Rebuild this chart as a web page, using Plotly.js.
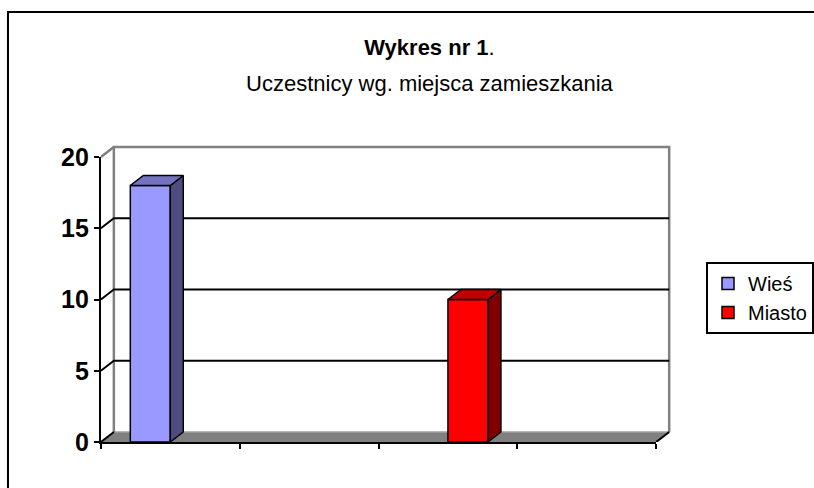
<!DOCTYPE html>
<html>
<head>
<meta charset="utf-8">
<script src="https://cdn.plot.ly/plotly-3.0.1.min.js"></script>
<style>html,body{margin:0;padding:0;background:#fff;}#chart{width:814px;height:488px;}</style>
</head>
<body>
<div id="chart"></div>
<script>
// ---- data ----
var categories = [1, 2, 3, 4];
var seriesNames = ["Wieś", "Miasto"];
var wies = [18, null, null, null];
var miasto = [null, null, 10, null];
var yTicks = [0, 5, 10, 15, 20];
var yTickLabels = ["0", "5", "10", "15", "20"];
var titleMain = "<b>Wykres nr 1</b>.";
var titleSub = "Uczestnicy wg. miejsca zamieszkania";

// ---- styles / geometry (pixels) ----
var W = 814, H = 488;
var FX0 = 101, FX1 = 657, FY0 = 442, FY1 = 157;   // front plot box
var DXP = 13, DYP = 10, PAD = 4;                   // 3D depth in px
var xMin = 0.5, xMax = categories.length + 0.5;
var yMin = 0, yMax = 20;
var pxX = (FX1 - FX0) / (xMax - xMin);
var pxY = (FY0 - FY1) / (yMax - yMin);
var DX = DXP / pxX, DY = DYP / pxY;
var BARGAP = 0.424;
var colors = {
  front: ["#9999FF", "#FF0000"],
  side:  ["#4D4D80", "#800000"],
  top:   ["#7373BF", "#C00000"]
};
var FONT = "Liberation Sans, Arial, sans-serif";
var TITLE_PX = 22, TITLE_LINE = 36;

var series = [wies, miasto];
var traces = [];

// ---- back decoration (subplot x/y) ----
var backLine = {line: {width: 0}, hoverinfo: "skip", showlegend: false, mode: "lines", xaxis: "x", yaxis: "y"};
// floor
traces.push(Object.assign({}, backLine, {
  type: "scatter", x: [xMin, xMax, xMax + DX, xMin + DX, xMin], y: [yMin, yMin, yMin + DY, yMin + DY, yMin],
  fill: "toself", fillcolor: "#808080", line: {width: 0}
}));
// floor back edge (lighter)
traces.push(Object.assign({}, backLine, {
  type: "scatter", x: [xMin + DX, xMax + DX], y: [yMin + DY, yMin + DY], line: {color: "#A0A0A0", width: 1.5}
}));
// back wall edges (grey)
traces.push(Object.assign({}, backLine, {
  type: "scatter",
  x: [xMin + DX, xMin + DX, xMax + DX, xMax + DX, null, xMin, xMin + DX],
  y: [yMin + DY, yMax + DY, yMax + DY, yMin + DY, null, yMax, yMax + DY],
  line: {color: "#808080", width: 2.5}
}));
// gridlines (side wall diagonal + back wall)
var gx = [], gy = [];
yTicks.forEach(function (v) {
  if (v === yMin || v === yMax) return;
  gx.push(xMin, xMin + DX, xMax + DX, null);
  gy.push(v, v + DY, v + DY, null);
});
traces.push(Object.assign({}, backLine, {type: "scatter", x: gx, y: gy, line: {color: "#000000", width: 2}}));
// floor left/right diagonals
traces.push(Object.assign({}, backLine, {
  type: "scatter", x: [xMin, xMin + DX, null, xMax, xMax + DX], y: [yMin, yMin + DY, null, yMin, yMin + DY],
  line: {color: "#000000", width: 2}
}));

// ---- bars (subplot x2/y2) ----
var barW = (1 - BARGAP) / series.length;
series.forEach(function (vals, s) {
  traces.push({
    type: "bar", name: seriesNames[s], x: categories, y: vals, xaxis: "x2", yaxis: "y2",
    marker: {color: colors.front[s], line: {color: "#000000", width: 1.5}},
    hoverinfo: "y"
  });
});
series.forEach(function (vals, s) {
  var tx = [], ty = [], sx = [], sy = [];
  vals.forEach(function (v, i) {
    if (v === null) return;
    var x0 = categories[i] - (1 - BARGAP) / 2 + s * barW, x1 = x0 + barW;
    tx.push(x0, x1, x1 + DX, x0 + DX, x0, null);
    ty.push(v, v, v + DY, v + DY, v, null);
    sx.push(x1, x1 + DX, x1 + DX, x1, x1, null);
    sy.push(yMin, yMin + DY, v + DY, v, yMin, null);
  });
  traces.push({type: "scatter", mode: "lines", x: sx, y: sy, xaxis: "x2", yaxis: "y2", fill: "toself",
    fillcolor: colors.side[s], line: {color: "#000000", width: 1.5}, hoverinfo: "skip", showlegend: false});
  traces.push({type: "scatter", mode: "lines", x: tx, y: ty, xaxis: "x2", yaxis: "y2", fill: "toself",
    fillcolor: colors.top[s], line: {color: "#000000", width: 1.5}, hoverinfo: "skip", showlegend: false});
});

var hidden = {visible: false, fixedrange: true};
var layout = {
  width: W, height: H,
  margin: {l: 0, r: 0, t: 0, b: 0, pad: 0},
  paper_bgcolor: "#FFFFFF", plot_bgcolor: "rgba(0,0,0,0)",
  font: {family: FONT, color: "#000000"},
  barmode: "group", bargap: BARGAP, bargroupgap: 0,
  title: {
    // base font size sets the line spacing; spans set the visible text size
    text: "<span style='font-size:" + TITLE_PX + "px'>" + titleMain + "</span><br>" +
          "<span style='font-size:" + TITLE_PX + "px'>" + titleSub + "</span>",
    font: {family: FONT, size: TITLE_LINE / 1.3, color: "#000000"},
    x: 430 / W, xanchor: "center", xref: "paper",
    y: 1 - 55 / H, yanchor: "top", yref: "container"
  },
  xaxis: Object.assign({}, hidden, {
    domain: [FX0 / W, (FX1 + DXP + PAD) / W], range: [xMin, xMax + (DXP + PAD) / pxX], anchor: "y"
  }),
  yaxis: Object.assign({}, hidden, {
    domain: [(H - FY0) / H, (H - (FY1 - DYP - PAD)) / H], range: [yMin, yMax + (DYP + PAD) / pxY], anchor: "x"
  }),
  xaxis2: {
    domain: [FX0 / W, FX1 / W], range: [xMin, xMax], anchor: "y2", fixedrange: true,
    showgrid: false, zeroline: false, showline: true, linecolor: "#000000", linewidth: 2,
    tickmode: "array", tickvals: [0.5, 1.5, 2.5, 3.5, 4.5], showticklabels: false,
    ticks: "outside", ticklen: 5, tickwidth: 2, tickcolor: "#000000"
  },
  yaxis2: {
    domain: [(H - FY0) / H, (H - FY1) / H], range: [yMin, yMax], anchor: "x2", fixedrange: true,
    showgrid: false, zeroline: false, showline: true, linecolor: "#000000", linewidth: 2,
    tickmode: "array", tickvals: yTicks, ticktext: yTickLabels,
    ticks: "outside", ticklen: 5, tickwidth: 2, tickcolor: "#000000",
    tickfont: {family: FONT, size: 25, color: "#000000", weight: "bold"}
  },
  legend: {
    x: 707 / W, y: 1 - 262 / H, xanchor: "left", yanchor: "top",
    bordercolor: "#000000", borderwidth: 2, bgcolor: "#FFFFFF",
    font: {family: FONT, size: 20, color: "#000000"},
    itemclick: false, itemdoubleclick: false
  },
  shapes: [{
    type: "rect", xref: "paper", yref: "paper",
    x0: 8 / W, x1: 2, y0: -1, y1: 1 - 12 / H,
    line: {color: "#000000", width: 2}, fillcolor: "rgba(0,0,0,0)", layer: "below"
  }],
  showlegend: true
};

Plotly.newPlot("chart", traces, layout, {displayModeBar: false, staticPlot: true});
</script>
</body>
</html>
